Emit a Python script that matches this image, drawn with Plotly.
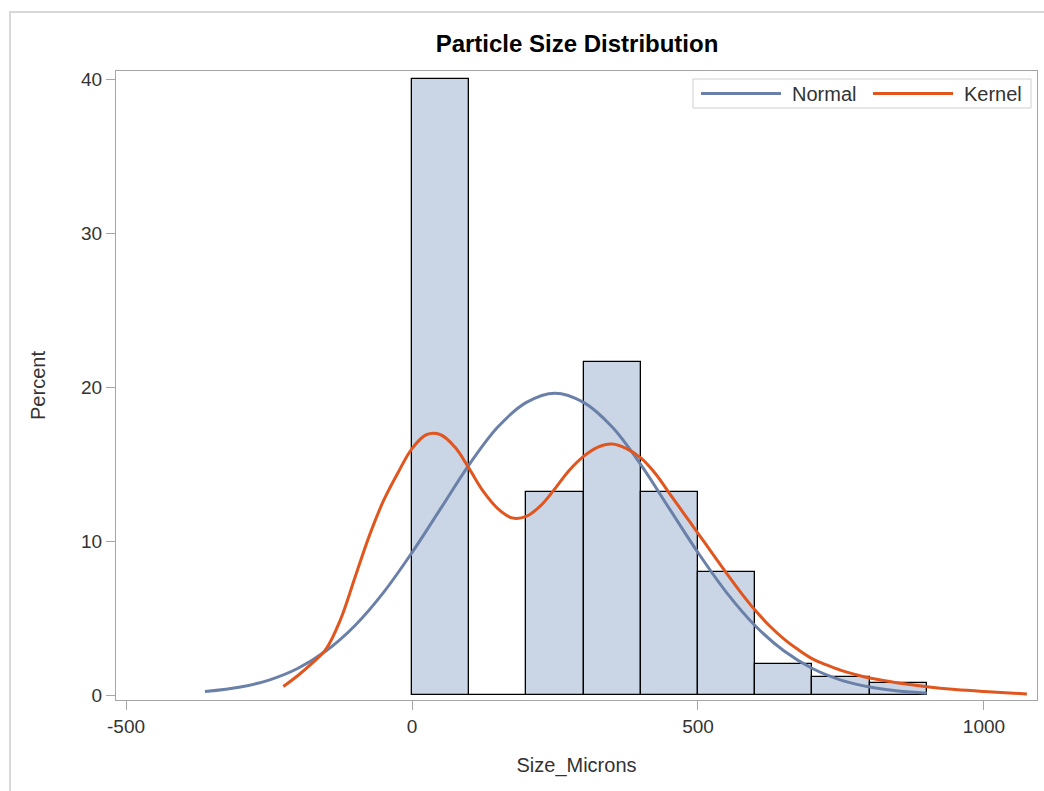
import plotly.graph_objects as go

# Histogram bins (midpoints) and percent
bin_mid = [50, 150, 250, 350, 450, 550, 650, 750, 850]
bin_pct = [40.0, 0.0, 13.2, 21.6, 13.2, 8.0, 2.0, 1.2, 0.8]

# Normal curve
normal_x = [-362, -300, -250, -200, -150, -100, -50, 0, 50, 100, 150, 200, 250,
            300, 350, 400, 450, 500, 550, 600, 650, 700, 750, 800, 850, 900]
normal_y = [0.22, 0.52, 0.97, 1.72, 2.87, 4.5, 6.65, 9.25, 12.1, 14.96, 17.4, 19.0, 19.6,
            19.0, 17.4, 14.96, 12.1, 9.25, 6.65, 4.5, 2.87, 1.72, 0.97, 0.52, 0.26, 0.12]

# Kernel density curve
kernel_x = [-225, -200, -175, -150, -125, -100, -75, -50, -25, 0, 25, 50, 75, 100, 125, 150,
            175, 200, 225, 250, 275, 300, 325, 350, 375, 400, 425, 450, 475, 500, 525, 550,
            575, 600, 625, 650, 675, 700, 725, 750, 775, 800, 850, 900, 950, 1000, 1075]
kernel_y = [0.55, 1.25, 2.05, 3.0, 4.9, 7.6, 10.3, 12.6, 14.4, 16.0, 16.9, 16.9, 16.1, 14.7, 13.2, 12.1,
            11.5, 11.6, 12.3, 13.4, 14.6, 15.5, 16.1, 16.3, 16.0, 15.4, 14.4, 13.1, 11.8, 10.5, 9.2, 7.9,
            6.65, 5.5, 4.5, 3.65, 2.95, 2.35, 1.95, 1.6, 1.33, 1.1, 0.78, 0.54, 0.36, 0.23, 0.07]

x_ticks = [-500, 0, 500, 1000]
x_tick_text = ["-500", "0", "500", "1000"]
y_ticks = [0, 10, 20, 30, 40]

FONT = "Liberation Sans, Arial, sans-serif"
FRAME = "#A5A5A5"
TXT = "#333333"
C_NORMAL = "#6A80A8"
C_KERNEL = "#E0561E"

fig = go.Figure()
fig.add_trace(go.Bar(
    x=bin_mid, y=bin_pct, width=100,
    marker=dict(color="#CAD5E5", line=dict(color="#000000", width=1.3)),
    showlegend=False, hoverinfo="x+y",
))
fig.add_trace(go.Scatter(
    x=normal_x, y=normal_y, mode="lines", name="Normal", showlegend=False,
    line=dict(color=C_NORMAL, width=3, shape="spline", smoothing=1.0),
))
fig.add_trace(go.Scatter(
    x=kernel_x, y=kernel_y, mode="lines", name="Kernel", showlegend=False,
    line=dict(color=C_KERNEL, width=3, shape="spline", smoothing=1.0),
))

W, H = 1044, 791
L, R, T, B = 116, 1037, 71, 700


def px2paper_x(px):
    return (px - L) / (R - L)


def px2paper_y(py):
    return (B - py) / (B - T)


# Manual legend (box, line samples, labels)
leg_y = 93.5
shapes = [
    dict(type="rect", xref="paper", yref="paper",
         x0=px2paper_x(10), y0=px2paper_y(820), x1=px2paper_x(1060), y1=px2paper_y(12),
         line=dict(color="#D8D8D8", width=2), layer="below"),
    dict(type="rect", xref="paper", yref="paper",
         x0=px2paper_x(693), y0=px2paper_y(108), x1=px2paper_x(1031), y1=px2paper_y(79),
         line=dict(color="#CFCFCF", width=1), fillcolor="white", layer="above"),
    dict(type="line", xref="paper", yref="paper",
         x0=px2paper_x(701), y0=px2paper_y(leg_y), x1=px2paper_x(781), y1=px2paper_y(leg_y),
         line=dict(color=C_NORMAL, width=3)),
    dict(type="line", xref="paper", yref="paper",
         x0=px2paper_x(873), y0=px2paper_y(leg_y), x1=px2paper_x(953), y1=px2paper_y(leg_y),
         line=dict(color=C_KERNEL, width=3)),
]
annotations = [
    dict(text="Normal", xref="paper", yref="paper", x=px2paper_x(790), y=px2paper_y(leg_y),
         xanchor="left", yanchor="middle", showarrow=False, font=dict(size=20, color=TXT)),
    dict(text="Kernel", xref="paper", yref="paper", x=px2paper_x(962), y=px2paper_y(leg_y),
         xanchor="left", yanchor="middle", showarrow=False, font=dict(size=20, color=TXT)),
]

fig.update_layout(
    width=W, height=H,
    margin=dict(l=L, r=W - R, t=T, b=H - B, autoexpand=False),
    paper_bgcolor="white", plot_bgcolor="white",
    font=dict(family=FONT, size=19, color=TXT),
    bargap=0,
    showlegend=False,
    title=dict(text="<b>Particle Size Distribution</b>", x=px2paper_x(577), xref="paper",
               xanchor="center", y=1 - 44 / H, yref="container", yanchor="middle",
               font=dict(family=FONT, size=24, color="#000000")),
    xaxis=dict(range=[-517.5, 1092.7], tickvals=x_ticks, ticktext=x_tick_text,
               ticks="outside", ticklen=9,
               tickcolor=FRAME, showline=True, linecolor=FRAME, linewidth=1, mirror=True,
               showgrid=False, zeroline=False, tickfont=dict(size=19, color=TXT),
               title=dict(text="Size_Microns", standoff=22, font=dict(size=20, color=TXT))),
    yaxis=dict(range=[-0.325, 40.52], tickvals=y_ticks, ticks="outside", ticklen=9,
               tickcolor=FRAME, showline=True, linecolor=FRAME, linewidth=1, mirror=True,
               showgrid=False, zeroline=False, tickfont=dict(size=19, color=TXT),
               title=dict(text="Percent", standoff=30, font=dict(size=20, color=TXT))),
    shapes=shapes,
    annotations=annotations,
)

fig.write_html("out.html")
